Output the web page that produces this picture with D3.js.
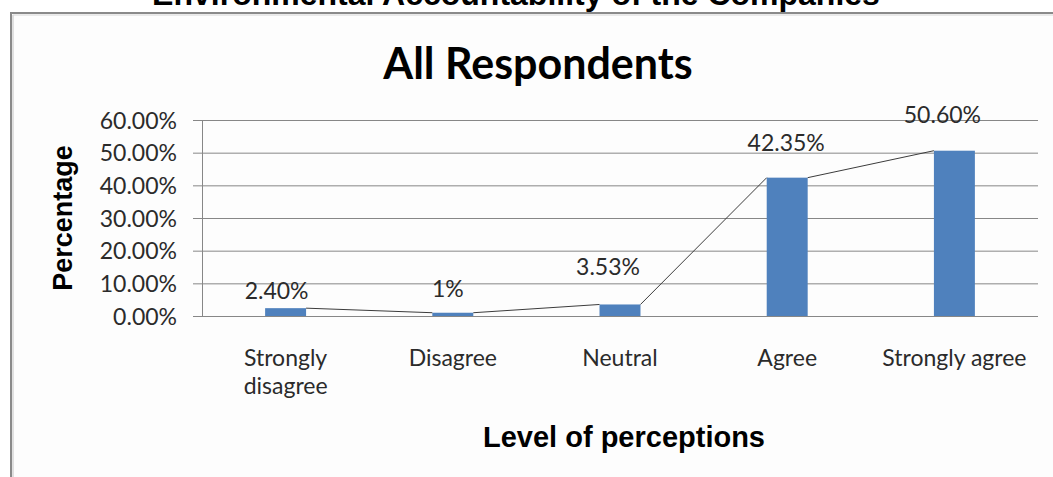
<!DOCTYPE html>
<html>
<head>
<meta charset="utf-8">
<script src="https://cdn.jsdelivr.net/npm/d3@7"></script>
<style>
  html, body { margin: 0; padding: 0; background: #fff; overflow: hidden; }
  svg { display: block; }
</style>
</head>
<body>
<svg id="chart" width="1053" height="477"></svg>
<script>
// Survey results: share of respondents at each level of perception
const categories = ["Strongly\ndisagree", "Disagree", "Neutral", "Agree", "Strongly agree"];
const values = [2.40, 1, 3.53, 42.35, 50.60];
const valueLabels = ["2.40%", "1%", "3.53%", "42.35%", "50.60%"];
const yTicks = [0, 10, 20, 30, 40, 50, 60];
const yTickLabels = ["0.00%", "10.00%", "20.00%", "30.00%", "40.00%", "50.00%", "60.00%"];

// Hand-placed label nudges (dx, dy from the top centre of each bar)
const labelNudge = [[-9, -9], [-5, -16], [-12, -29], [-1, -27], [-12, -28]];

const W = 1053, H = 477;
const plot = { left: 202, right: 1038, top: 120, bottom: 316 };
const labelFont = "Lato, 'Open Sans', sans-serif";
const labelSize = 23;
const boldFont = "'Liberation Sans', Arial, sans-serif";
const gridColor = "#878787";
const textColor = "#2b2b2b";

const svg = d3.select("#chart");

// Outer frame of the chart object
svg.append("rect")
  .attr("x", 11).attr("y", 13)
  .attr("width", W + 20).attr("height", H + 20)
  .attr("fill", "#fdfdfd")
  .attr("stroke", "#8a8a8a").attr("stroke-width", 2);
svg.append("line").attr("x1", 13).attr("x2", 13).attr("y1", 15).attr("y2", H)
  .attr("stroke", "#d6d6d6").attr("stroke-width", 1.5);
svg.append("line").attr("x1", 13).attr("x2", W).attr("y1", 15).attr("y2", 15)
  .attr("stroke", "#d6d6d6").attr("stroke-width", 1);

// Figure heading above the frame
svg.append("text")
  .attr("x", 516).attr("y", 5)
  .attr("text-anchor", "middle")
  .attr("font-family", boldFont).attr("font-weight", "bold").attr("font-size", 32)
  .attr("fill", "#000")
  .text("Environmental Accountability of the Companies");

// Chart title
svg.append("text")
  .attr("x", 538).attr("y", 79)
  .attr("text-anchor", "middle")
  .attr("font-family", labelFont).attr("font-weight", "bold").attr("font-size", 43)
  .attr("fill", "#000")
  .text("All Respondents");

const x = d3.scaleBand().domain(categories).range([plot.left, plot.right]).padding(0);
const y = d3.scaleLinear().domain([0, 60]).range([plot.bottom, plot.top]);
const barW = x.bandwidth() * 0.245;
const cx = c => x(c) + x.bandwidth() / 2;

// Horizontal gridlines
const grid = svg.append("g").attr("transform", `translate(${plot.left},0)`)
  .call(d3.axisLeft(y).tickValues(yTicks).tickSize(-(plot.right - plot.left)).tickFormat(""));
grid.select(".domain").remove();
grid.selectAll(".tick line").attr("stroke", gridColor).attr("stroke-width", 1);

// Value axis with tick marks and labels
const yAxis = svg.append("g").attr("transform", `translate(${plot.left},0)`)
  .call(d3.axisLeft(y).tickValues(yTicks).tickSize(9).tickSizeOuter(0).tickPadding(16)
    .tickFormat((d, i) => yTickLabels[i]));
yAxis.select(".domain").attr("stroke", gridColor);
yAxis.selectAll(".tick line").attr("stroke", gridColor);
yAxis.selectAll(".tick text")
  .attr("font-family", labelFont).attr("font-size", labelSize).attr("fill", textColor)
  .attr("dy", "0.36em");

// Category axis labels (multi-line where needed)
const xAxis = svg.append("g").attr("transform", `translate(0,${plot.bottom})`)
  .call(d3.axisBottom(x).tickSize(0).tickFormat(""));
xAxis.select(".domain").remove();
xAxis.selectAll(".tick").each(function (d) {
  const t = d3.select(this).append("text")
    .attr("text-anchor", "middle")
    .attr("font-family", labelFont).attr("font-size", labelSize).attr("fill", textColor);
  d.split("\n").forEach((line, i) => {
    t.append("tspan").attr("x", 0).attr("y", 50 + i * 28).text(line);
  });
});

// Bars
svg.append("g").selectAll("rect").data(categories).join("rect")
  .attr("x", c => cx(c) - barW / 2)
  .attr("y", (c, i) => y(values[i]))
  .attr("width", barW)
  .attr("height", (c, i) => y(0) - y(values[i]))
  .attr("fill", "#4f81bd");

// Series lines joining the top corners of neighbouring bars
const segs = d3.range(categories.length - 1).map(i => [
  [cx(categories[i]) + barW / 2, y(values[i])],
  [cx(categories[i + 1]) - barW / 2, y(values[i + 1])]
]);
svg.append("g").selectAll("path").data(segs).join("path")
  .attr("d", d3.line())
  .attr("fill", "none").attr("stroke", "#3c3c3c").attr("stroke-width", 1);

// Data labels
svg.append("g").selectAll("text").data(categories).join("text")
  .attr("x", (c, i) => cx(c) + labelNudge[i][0])
  .attr("y", (c, i) => y(values[i]) + labelNudge[i][1])
  .attr("text-anchor", "middle")
  .attr("font-family", labelFont).attr("font-size", labelSize).attr("fill", textColor)
  .text((c, i) => valueLabels[i]);

// Axis titles
svg.append("text")
  .attr("transform", `translate(72,${(plot.top + plot.bottom) / 2}) rotate(-90)`)
  .attr("text-anchor", "middle")
  .attr("font-family", boldFont).attr("font-weight", "bold").attr("font-size", 27)
  .attr("fill", "#000")
  .text("Percentage");

svg.append("text")
  .attr("x", 624).attr("y", 447)
  .attr("text-anchor", "middle")
  .attr("font-family", boldFont).attr("font-weight", "bold").attr("font-size", 29)
  .attr("fill", "#000")
  .text("Level of perceptions");
</script>
</body>
</html>
